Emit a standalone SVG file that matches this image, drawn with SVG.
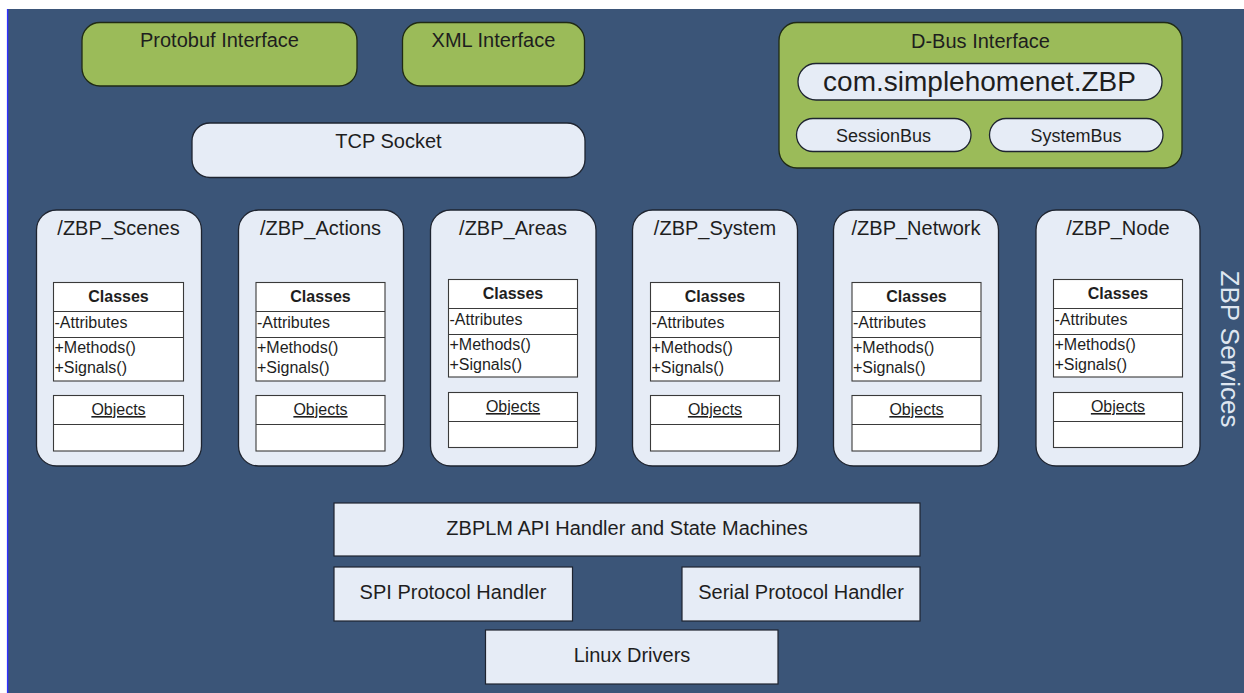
<svg xmlns="http://www.w3.org/2000/svg" width="1244" height="693" viewBox="0 0 1244 693">
  <style>
    text { font-family: "Liberation Sans", Arial, sans-serif; fill: #1e1e1e; }
    .iface { fill: #9bbb59; stroke: #1f2a14; stroke-width: 1.3; }
    .light { fill: #e6ecf6; stroke: #1e2430; stroke-width: 1.3; }
    .block { fill: #e6ecf6; stroke: #1e2430; stroke-width: 1.2; }
    .cls { fill: #ffffff; stroke: #3a3a3a; stroke-width: 1.1; }
    .t20 { font-size: 20px; text-anchor: middle; }
    .t18 { font-size: 18px; text-anchor: middle; }
    .big { font-size: 28px; text-anchor: middle; }
    .hdr { font-size: 16px; font-weight: bold; text-anchor: middle; }
    .mem { font-size: 16px; }
    .obj { font-size: 16px; text-anchor: middle; text-decoration: underline; }
    .side { font-size: 26px; text-anchor: middle; fill: #dfe6f0; }
  </style>

  <!-- page -->
  <rect x="0" y="0" width="1244" height="693" fill="#ffffff"/>
  <rect x="7" y="9" width="1237" height="684" fill="#3b5578"/>
  <line x1="7.6" y1="9" x2="7.6" y2="693" stroke="#2f2fff" stroke-width="1.4"/>

  <!-- interfaces -->
  <g id="protobuf">
    <rect class="iface" x="82" y="22.5" width="275" height="63.5" rx="18"/>
    <text class="t20" x="219.5" y="47">Protobuf Interface</text>
  </g>
  <g id="xml">
    <rect class="iface" x="402.5" y="22.5" width="182" height="63.5" rx="18"/>
    <text class="t20" x="493.5" y="47">XML Interface</text>
  </g>
  <g id="dbus">
    <rect class="iface" x="779" y="22.5" width="403" height="145.5" rx="18"/>
    <text class="t20" x="980.5" y="48">D-Bus Interface</text>
    <rect class="light" x="798" y="63.5" width="364" height="36.5" rx="18"/>
    <text class="big" x="979.5" y="90.5">com.simplehomenet.ZBP</text>
    <rect class="light" x="796.5" y="118.5" width="174.5" height="33" rx="16.5"/>
    <text class="t18" x="883.5" y="142">SessionBus</text>
    <rect class="light" x="989.5" y="118.5" width="173.5" height="33" rx="16.5"/>
    <text class="t18" x="1076" y="142">SystemBus</text>
  </g>

  <g id="tcp">
    <rect class="light" x="192" y="123" width="393" height="54.5" rx="18"/>
    <text class="t20" x="388.5" y="148">TCP Socket</text>
  </g>

  <!-- ZBP services -->
  <g id="zbp-scenes">
    <rect class="light" x="36.5" y="210" width="165" height="256" rx="20"/>
    <text class="t20" x="118.5" y="235">/ZBP_Scenes</text>
    <rect class="cls" x="53.5" y="282.5" width="130" height="98.5"/>
    <line class="cls" x1="53.5" y1="311.5" x2="183.5" y2="311.5"/>
    <line class="cls" x1="53.5" y1="337.5" x2="183.5" y2="337.5"/>
    <text class="hdr" x="118.5" y="302">Classes</text>
    <text class="mem" x="54.5" y="328">-Attributes</text>
    <text class="mem" x="54.5" y="353">+Methods()</text>
    <text class="mem" x="54.5" y="373">+Signals()</text>
    <rect class="cls" x="53.5" y="395.5" width="130" height="55.5"/>
    <line class="cls" x1="53.5" y1="424.5" x2="183.5" y2="424.5"/>
    <text class="obj" x="118.5" y="415">Objects</text>
  </g>

  <g id="zbp-actions">
    <rect class="light" x="238.5" y="210" width="165" height="256" rx="20"/>
    <text class="t20" x="320.5" y="235">/ZBP_Actions</text>
    <rect class="cls" x="256" y="282.5" width="129" height="98.5"/>
    <line class="cls" x1="256" y1="311.5" x2="385" y2="311.5"/>
    <line class="cls" x1="256" y1="337.5" x2="385" y2="337.5"/>
    <text class="hdr" x="320.5" y="302">Classes</text>
    <text class="mem" x="257" y="328">-Attributes</text>
    <text class="mem" x="257" y="353">+Methods()</text>
    <text class="mem" x="257" y="373">+Signals()</text>
    <rect class="cls" x="256" y="395.5" width="129" height="55.5"/>
    <line class="cls" x1="256" y1="424.5" x2="385" y2="424.5"/>
    <text class="obj" x="320.5" y="415">Objects</text>
  </g>

  <g id="zbp-areas">
    <rect class="light" x="430.5" y="210" width="165.5" height="256" rx="20"/>
    <text class="t20" x="513" y="235">/ZBP_Areas</text>
    <rect class="cls" x="448.5" y="279.5" width="129" height="97.5"/>
    <line class="cls" x1="448.5" y1="308.5" x2="577.5" y2="308.5"/>
    <line class="cls" x1="448.5" y1="334.5" x2="577.5" y2="334.5"/>
    <text class="hdr" x="513" y="299">Classes</text>
    <text class="mem" x="449.5" y="325">-Attributes</text>
    <text class="mem" x="449.5" y="350">+Methods()</text>
    <text class="mem" x="449.5" y="370">+Signals()</text>
    <rect class="cls" x="448.5" y="392.5" width="129" height="55"/>
    <line class="cls" x1="448.5" y1="421.5" x2="577.5" y2="421.5"/>
    <text class="obj" x="513" y="412">Objects</text>
  </g>

  <g id="zbp-system">
    <rect class="light" x="632.5" y="210" width="165" height="256" rx="20"/>
    <text class="t20" x="715" y="235">/ZBP_System</text>
    <rect class="cls" x="650.5" y="282.5" width="129" height="98.5"/>
    <line class="cls" x1="650.5" y1="311.5" x2="779.5" y2="311.5"/>
    <line class="cls" x1="650.5" y1="337.5" x2="779.5" y2="337.5"/>
    <text class="hdr" x="715" y="302">Classes</text>
    <text class="mem" x="651.5" y="328">-Attributes</text>
    <text class="mem" x="651.5" y="353">+Methods()</text>
    <text class="mem" x="651.5" y="373">+Signals()</text>
    <rect class="cls" x="650.5" y="395.5" width="129" height="55.5"/>
    <line class="cls" x1="650.5" y1="424.5" x2="779.5" y2="424.5"/>
    <text class="obj" x="715" y="415">Objects</text>
  </g>

  <g id="zbp-network">
    <rect class="light" x="833.5" y="210" width="165" height="256" rx="20"/>
    <text class="t20" x="916" y="235">/ZBP_Network</text>
    <rect class="cls" x="852" y="282.5" width="129" height="98.5"/>
    <line class="cls" x1="852" y1="311.5" x2="981" y2="311.5"/>
    <line class="cls" x1="852" y1="337.5" x2="981" y2="337.5"/>
    <text class="hdr" x="916.5" y="302">Classes</text>
    <text class="mem" x="853" y="328">-Attributes</text>
    <text class="mem" x="853" y="353">+Methods()</text>
    <text class="mem" x="853" y="373">+Signals()</text>
    <rect class="cls" x="852" y="395.5" width="129" height="55.5"/>
    <line class="cls" x1="852" y1="424.5" x2="981" y2="424.5"/>
    <text class="obj" x="916.5" y="415">Objects</text>
  </g>

  <g id="zbp-node">
    <rect class="light" x="1036" y="210" width="164" height="256" rx="20"/>
    <text class="t20" x="1118" y="235">/ZBP_Node</text>
    <rect class="cls" x="1053.5" y="279.5" width="129" height="97.5"/>
    <line class="cls" x1="1053.5" y1="308.5" x2="1182.5" y2="308.5"/>
    <line class="cls" x1="1053.5" y1="334.5" x2="1182.5" y2="334.5"/>
    <text class="hdr" x="1118" y="299">Classes</text>
    <text class="mem" x="1054.5" y="325">-Attributes</text>
    <text class="mem" x="1054.5" y="350">+Methods()</text>
    <text class="mem" x="1054.5" y="370">+Signals()</text>
    <rect class="cls" x="1053.5" y="392.5" width="129" height="55"/>
    <line class="cls" x1="1053.5" y1="421.5" x2="1182.5" y2="421.5"/>
    <text class="obj" x="1118" y="412">Objects</text>
  </g>

  <text class="side" transform="translate(1221 349) rotate(90)">ZBP Services</text>

  <!-- lower stack -->
  <g id="zbplm">
    <rect class="block" x="334" y="503" width="586" height="53"/>
    <text class="t20" x="627" y="535">ZBPLM API Handler and State Machines</text>
  </g>
  <g id="spi">
    <rect class="block" x="334" y="567" width="238.5" height="54"/>
    <text class="t20" x="453" y="599">SPI Protocol Handler</text>
  </g>
  <g id="serial">
    <rect class="block" x="682" y="567" width="238" height="54"/>
    <text class="t20" x="801" y="599">Serial Protocol Handler</text>
  </g>
  <g id="linux">
    <rect class="block" x="485.5" y="630" width="292.5" height="54"/>
    <text class="t20" x="632" y="662">Linux Drivers</text>
  </g>

  <!-- the layers are stacked without connectors -->
  <g id="connectors"/>
</svg>
